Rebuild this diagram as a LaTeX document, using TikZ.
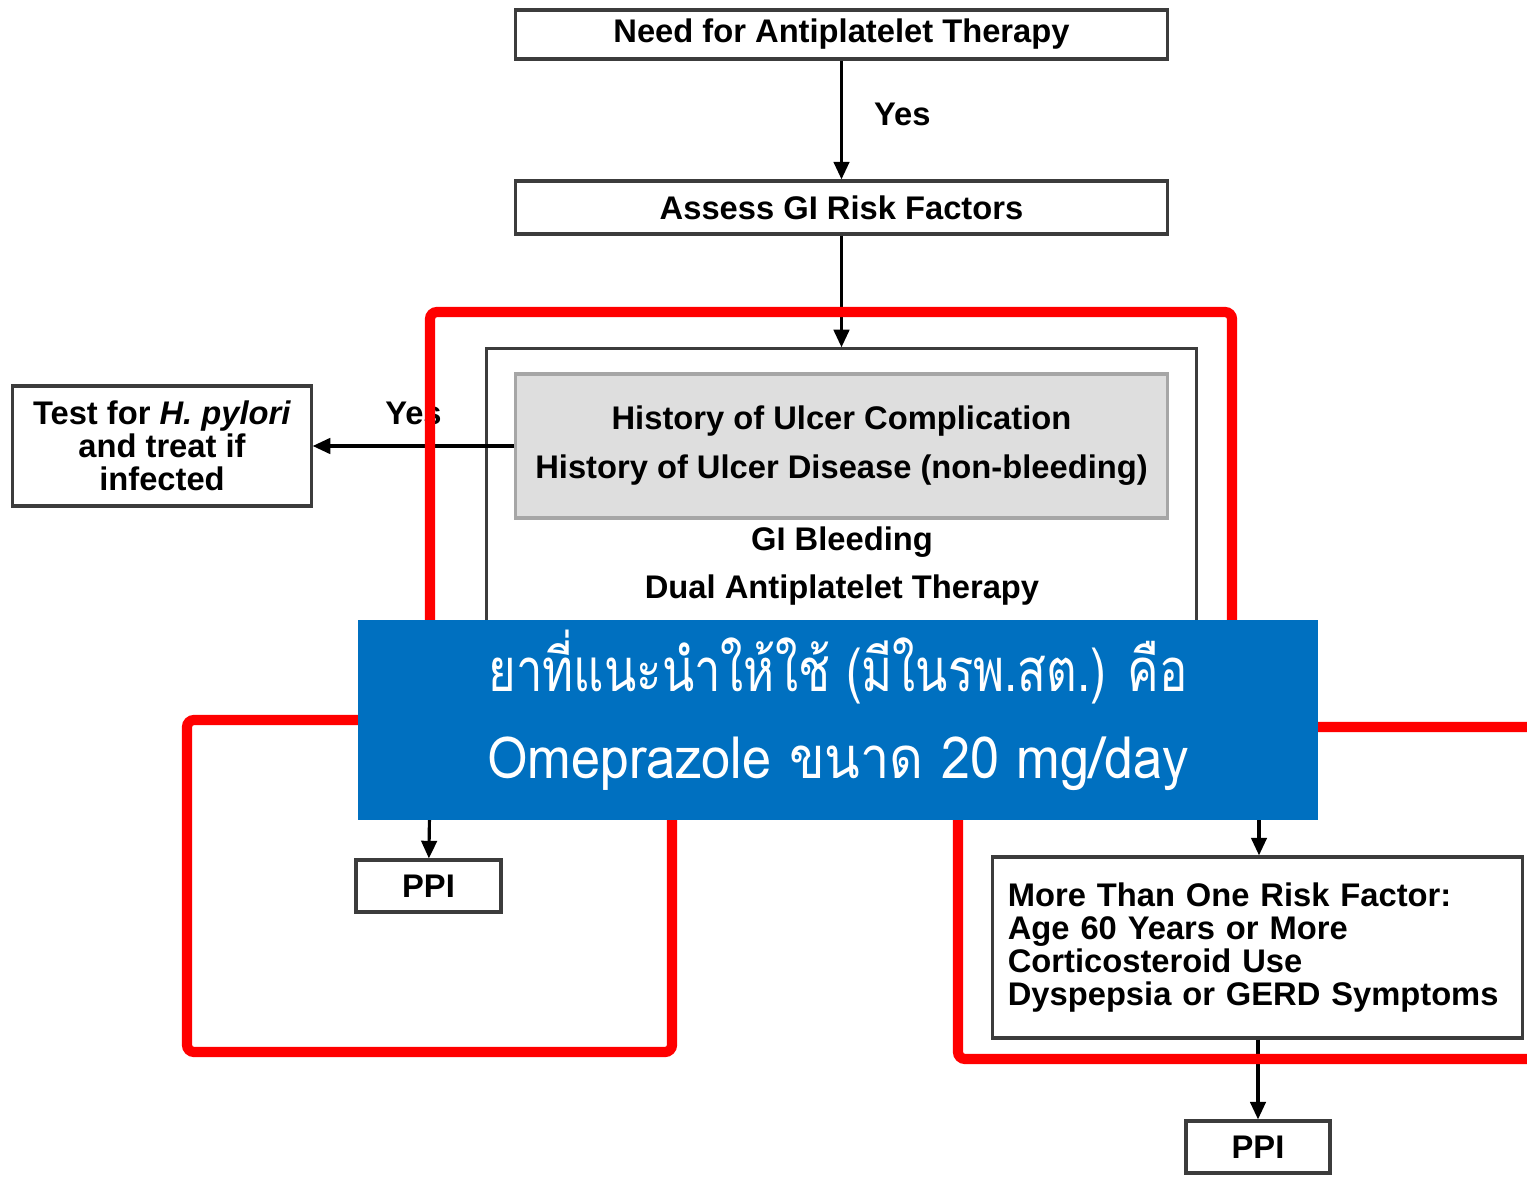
\documentclass[tikz,border=0pt]{standalone}
\usepackage{fontspec}
\setmainfont{Liberation Sans}
\newfontfamily\thaifont[Script=Thai, FakeStretch=0.79]{Loma}
\newfontfamily\thaiwide[Script=Thai, FakeStretch=0.9]{Loma}
\usepackage{xcolor}
\usepackage{tikz}
\usetikzlibrary{
  arrows.meta,
  positioning
}
\definecolor{xbanner}{RGB}{0,112,192}
\definecolor{xmark}{RGB}{255,0,0}
\definecolor{xpanel}{RGB}{222,222,222}
\definecolor{xline}{RGB}{60,60,60}

\begin{document}
\begin{tikzpicture}[
  x=0.01cm, y=-0.01cm,
  box/.style={draw=xline, fill=white, line width=0.9pt, inner sep=0pt,
              align=center, font=\fontsize{9.3}{9.4}\selectfont\bfseries},
  panel/.style={draw=black!35, fill=xpanel, line width=0.9pt, inner sep=0pt,
                align=center, font=\fontsize{9.3}{13.9}\selectfont\bfseries},
  lbl/.style={font=\fontsize{9.3}{11}\selectfont\bfseries, inner sep=0pt},
  banner/.style={fill=xbanner, text=white, inner sep=0pt, align=center,
                 minimum width=9.6cm, minimum height=2cm},
  redframe/.style={draw=xmark, line width=2.9pt, rounded corners=2pt},
  arr/.style={-{Triangle[length=5pt, width=4.4pt]}, line width=0.9pt}
]
  \clip (0,0) rectangle (1527,1182);
  \fill[white] (0,0) rectangle (1527,1182);

  \node[box, minimum width=6.51cm, minimum height=0.49cm] (need)   at (841.5, 34.5) {Need for Antiplatelet Therapy};
  \node[box, minimum width=6.51cm, minimum height=0.53cm] (assess) at (841.5, 207.5) {Assess GI Risk Factors};
  \node[box, minimum width=7.09cm, minimum height=3.51cm] (grp)    at (841.5, 524.5) {};
  \node[panel, minimum width=6.51cm, minimum height=1.44cm] (hist) at (841.5, 446) {History of Ulcer Complication\\History of Ulcer Disease (non-bleeding)};
  \node[lbl] (bleed) at (842, 542) {GI Bleeding};
  \node[lbl] (dual)  at (842, 590) {Dual Antiplatelet Therapy};
  \node[box, minimum width=2.98cm, minimum height=1.2cm] (test) at (162, 446) {Test for \textit{H. pylori}\\and treat if\\infected};
  \node[box, minimum width=1.45cm, minimum height=0.52cm] (ppiL) at (428.5, 886) {PPI};
  \node[box, minimum width=5.29cm, minimum height=1.81cm, text width=4.99cm, align=left] (multi) at (1257.5, 947.5) {More Than One Risk Factor:\\Age 60 Years or More\\Corticosteroid Use\\Dyspepsia or GERD Symptoms};
  \node[box, minimum width=1.44cm, minimum height=0.52cm] (ppiR) at (1258, 1147) {PPI};
  \coordinate (fromL) at (430, 780);
  \coordinate (fromR) at (1259, 780);

  \draw[arr] (need) -- node[lbl, right=0.31cm, pos=0.45] {Yes} (assess);
  \draw[arr] (assess) -- (grp);
  \draw[arr] (hist.west) -- node[lbl, above=0.2cm] {Yes} (test);
  \draw[arr] (fromL) -- (ppiL);
  \draw[arr] (fromR) -- (multi.north -| fromR);
  \draw[arr] (multi.south -| ppiR) -- (ppiR);

  \draw[redframe] (430, 312) rectangle (1232, 700);
  \draw[redframe] (187, 720) rectangle (672, 1052);
  \draw[redframe] (958, 727) rectangle (1600, 1059);

  \node[banner] (note) at (838, 720) {};
  \node[text=white, font=\thaifont\fontsize{17}{20}\selectfont] (line1) at (838, 667) {ยาที่แนะนำให้ใช้ (มีในรพ.สต.) คือ};
  \node[text=white, font=\thaiwide\fontsize{16.5}{20}\selectfont] (line2) at (838, 764) {Omeprazole ขนาด 20 mg/day};
\end{tikzpicture}
\end{document}
